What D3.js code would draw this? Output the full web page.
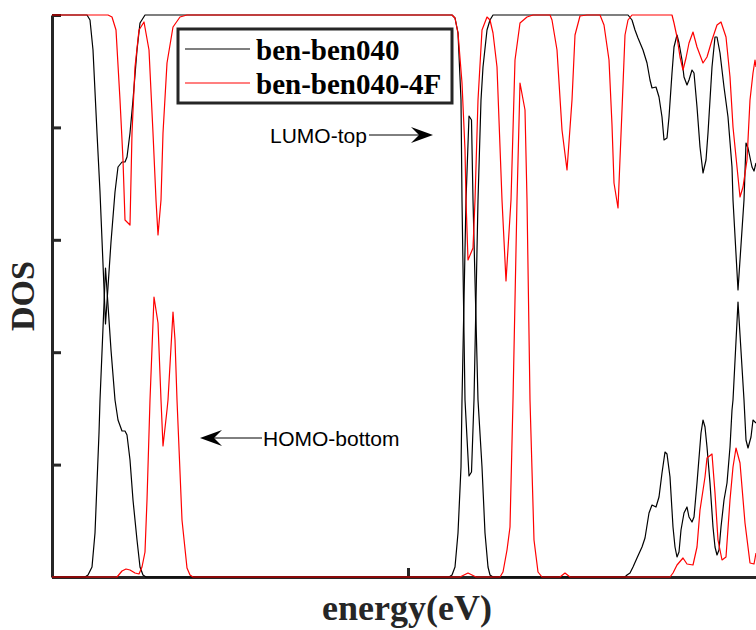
<!DOCTYPE html>
<html><head><meta charset="utf-8">
<script src="https://cdn.jsdelivr.net/npm/d3@7"></script>
<style>body{margin:0;background:#fff}svg{display:block}</style>
</head><body><svg id="c" width="756" height="630"></svg>
<script>
const seriesNames = ["ben-ben040", "ben-ben040-4F"];
const seriesColors = ["#000000", "#ff0000"];
const xTicks = [-10, -2.88];
const yTicks = [0, 1.124, 2.248, 3.372, 4.496, 5.62];

// [energy, DOS]
const blackLower = [[-10,0],[-9.34,0],[-9.28,0.02],[-9.20,0.10],[-9.14,0.44],[-9.10,0.94],[-9.06,1.44],[-9.04,1.77],[-8.99,2.37],[-8.93,3.09],[-8.88,2.72],[-8.82,2.27],[-8.74,1.77],[-8.68,1.57],[-8.60,1.46],[-8.54,1.46],[-8.50,1.42],[-8.44,1.17],[-8.38,0.77],[-8.30,0.37],[-8.24,0.10],[-8.18,0.02],[-8.12,0],
[-2.06,0],[-2.00,0.02],[-1.94,0.10],[-1.88,0.44],[-1.82,1.10],[-1.80,1.77],[-1.72,3.77],[-1.66,4.61],[-1.61,4.57],[-1.58,3.77],[-1.48,1.77],[-1.40,1.10],[-1.34,0.44],[-1.28,0.10],[-1.24,0.02],[-1.18,0],
[1.46,0],[1.50,0.02],[1.56,0.04],[1.62,0.10],[1.70,0.19],[1.80,0.30],[1.86,0.39],[1.94,0.64],[2.00,0.72],[2.08,0.70],[2.14,0.80],[2.20,1.04],[2.26,1.25],[2.30,1.23],[2.36,1.00],[2.42,0.50],[2.46,0.30],[2.50,0.20],[2.54,0.25],[2.58,0.47],[2.64,0.64],[2.70,0.70],[2.74,0.60],[2.80,0.55],[2.84,0.60],[2.90,0.94],[2.98,1.44],[3.02,1.57],[3.06,1.50],[3.10,1.30],[3.16,0.94],[3.22,0.50],[3.26,0.30],[3.30,0.22],[3.34,0.27],[3.38,0.50],[3.44,0.77],[3.50,0.94],[3.56,1.30],[3.60,1.67],[3.62,1.77],[3.72,2.75],[3.84,1.77],[3.88,1.37],[3.92,1.29],[3.98,1.40],[4.02,1.57],[4.08,1.54]];

const blackUpper = [[-10,5.62],[-9.30,5.62],[-9.24,5.57],[-9.18,5.27],[-9.10,4.44],[-9.04,3.85],[-8.99,3.25],[-8.93,2.53],[-8.88,2.90],[-8.82,3.35],[-8.74,3.85],[-8.68,4.10],[-8.60,4.15],[-8.54,4.15],[-8.50,4.20],[-8.44,4.44],[-8.38,4.77],[-8.30,5.27],[-8.24,5.54],[-8.14,5.62],
[-2.06,5.62],[-2.00,5.62],[-1.94,5.59],[-1.88,5.44],[-1.82,4.77],[-1.80,3.77],[-1.74,1.77],[-1.66,1.01],[-1.61,1.05],[-1.56,1.77],[-1.48,3.77],[-1.42,4.77],[-1.38,5.10],[-1.30,5.47],[-1.24,5.57],[-1.18,5.62],
[1.46,5.62],[1.52,5.62],[1.60,5.57],[1.66,5.47],[1.72,5.39],[1.82,5.27],[1.90,5.14],[1.96,4.97],[2.00,4.89],[2.08,4.90],[2.14,4.80],[2.20,4.60],[2.24,4.37],[2.30,4.39],[2.34,4.60],[2.40,5.04],[2.44,5.30],[2.50,5.42],[2.54,5.34],[2.60,5.17],[2.64,5.00],[2.70,4.92],[2.74,4.97],[2.80,5.07],[2.84,5.04],[2.90,4.70],[2.96,4.30],[3.02,4.04],[3.08,4.17],[3.12,4.44],[3.20,5.10],[3.26,5.40],[3.30,5.40],[3.36,5.24],[3.44,4.90],[3.52,4.60],[3.60,4.10],[3.62,3.77],[3.72,2.87],[3.84,3.77],[3.88,4.34],[3.92,4.29],[4.00,4.10],[4.04,4.06],[4.08,4.14]];

const redUpper = [[-10,5.62],[-8.88,5.62],[-8.80,5.60],[-8.72,5.47],[-8.64,4.77],[-8.58,4.17],[-8.54,3.57],[-8.44,3.52],[-8.40,4.44],[-8.34,5.10],[-8.26,5.47],[-8.16,5.55],[-8.06,5.27],[-7.98,4.44],[-7.92,3.77],[-7.88,3.42],[-7.82,3.77],[-7.78,4.44],[-7.70,5.14],[-7.58,5.50],[-7.44,5.60],[-7.30,5.62],
[-2.00,5.62],[-1.94,5.59],[-1.88,5.44],[-1.80,4.94],[-1.74,4.27],[-1.72,3.77],[-1.68,3.17],[-1.58,3.29],[-1.54,3.77],[-1.48,4.77],[-1.40,5.47],[-1.30,5.60],[-1.24,5.57],[-1.18,5.44],[-1.10,5.10],[-1.00,3.77],[-0.92,2.96],[-0.82,3.77],[-0.74,5.17],[-0.64,5.54],[-0.50,5.60],[-0.38,5.62],
[-0.04,5.62],[0.00,5.57],[0.10,5.27],[0.20,4.47],[0.30,4.07],[0.40,4.77],[0.46,5.42],[0.56,5.61],[0.70,5.62],[0.96,5.62],[1.04,5.52],[1.14,5.17],[1.20,4.52],[1.24,3.94],[1.32,3.69],[1.40,4.67],[1.46,5.42],[1.52,5.57],[1.60,5.62],
[2.40,5.62],[2.44,5.54],[2.50,5.40],[2.56,5.20],[2.62,5.07],[2.68,5.19],[2.74,5.34],[2.82,5.45],[2.90,5.30],[3.02,5.14],[3.10,5.20],[3.20,5.37],[3.30,5.52],[3.38,5.55],[3.48,5.40],[3.56,5.00],[3.62,4.50],[3.70,4.10],[3.76,3.80],[3.82,3.90],[3.90,4.17],[3.96,4.77],[4.02,5.04],[4.06,5.17],[4.08,5.10]];

const redLower = [[-10,0],[-8.70,0],[-8.60,0.06],[-8.52,0.08],[-8.44,0.07],[-8.34,0.04],[-8.26,0.03],[-8.20,0.10],[-8.14,0.25],[-8.10,0.77],[-8.04,1.77],[-7.96,2.80],[-7.88,2.54],[-7.82,1.77],[-7.78,1.31],[-7.70,1.67],[-7.68,1.77],[-7.58,2.65],[-7.54,2.37],[-7.50,1.77],[-7.40,0.57],[-7.30,0.09],[-7.24,0.02],[-7.18,0],
[-1.84,0],[-1.68,0.04],[-1.52,0],[-1.04,0],[-0.98,0.05],[-0.90,0.27],[-0.84,0.50],[-0.78,1.77],[-0.70,3.77],[-0.64,4.94],[-0.54,4.67],[-0.50,3.77],[-0.44,1.77],[-0.36,0.37],[-0.28,0.05],[-0.20,0],
[0.16,0],[0.26,0.04],[0.36,0],[2.36,0],[2.42,0.04],[2.50,0.12],[2.62,0.19],[2.70,0.13],[2.82,0.12],[2.90,0.30],[2.96,0.67],[3.06,1.00],[3.10,1.19],[3.20,1.23],[3.26,0.84],[3.32,0.37],[3.40,0.17],[3.48,0.20],[3.56,0.77],[3.62,1.10],[3.68,1.29],[3.76,1.14],[3.86,0.54],[3.96,0.14],[4.04,0.13],[4.08,0.24]];

const svg = d3.select("#c");
const x = d3.scaleLinear().domain([-10, 4.08]).range([52, 756]);
const y = d3.scaleLinear().domain([0, 5.62]).range([577, 15]);
const axisColor = "#262626";

// axes
const gx = svg.append("g").attr("transform", "translate(0,577)")
  .call(d3.axisBottom(x).tickValues(xTicks).tickSize(-9).tickSizeOuter(0).tickFormat(""));
const gy = svg.append("g").attr("transform", "translate(52,0)")
  .call(d3.axisLeft(y).tickValues(yTicks).tickSize(-9).tickSizeOuter(0).tickFormat(""));
[gx, gy].forEach(g => {
  g.select(".domain").attr("stroke", axisColor).attr("stroke-width", 3);
  g.selectAll(".tick line").attr("stroke", axisColor).attr("stroke-width", 3);
});

const line = d3.line().x(d => x(d[0])).y(d => y(d[1]));
const curves = [
  {data: blackUpper, color: seriesColors[0]},
  {data: blackLower, color: seriesColors[0]},
  {data: redUpper, color: seriesColors[1]},
  {data: redLower, color: seriesColors[1]}
];
svg.append("g").selectAll("path").data(curves).join("path")
  .attr("d", d => line(d.data))
  .attr("fill", "none")
  .attr("stroke", d => d.color)
  .attr("stroke-width", 1.2)
  .attr("stroke-linejoin", "round");

// axis labels
svg.append("text").attr("transform", "translate(34,296) rotate(-90)")
  .attr("text-anchor", "middle")
  .style("font-family", "'Liberation Serif','Times New Roman',serif")
  .style("font-weight", "bold").style("font-size", "34px").attr("fill", "#262626")
  .text("DOS");
svg.append("text").attr("x", 407).attr("y", 620)
  .attr("text-anchor", "middle")
  .style("font-family", "'Liberation Serif','Times New Roman',serif")
  .style("font-weight", "bold").style("font-size", "36px").attr("fill", "#262626")
  .text("energy(eV)");

// legend
const leg = svg.append("g");
leg.append("rect").attr("x", 178).attr("y", 29).attr("width", 274).attr("height", 74)
  .attr("fill", "#fff").attr("stroke", axisColor).attr("stroke-width", 3);
const legY = [49, 83];
const legBase = [60, 94];
seriesNames.forEach((n, i) => {
  leg.append("line").attr("x1", 185).attr("x2", 250).attr("y1", legY[i]).attr("y2", legY[i])
    .attr("stroke", seriesColors[i]).attr("stroke-width", 1.2);
  leg.append("text").attr("x", 256).attr("y", legBase[i])
    .style("font-family", "'Liberation Serif','Times New Roman',serif")
    .style("font-weight", "bold").style("font-size", "29px").attr("fill", "#000")
    .text(n);
});

// annotations
function arrow(x1, x2, yy) {
  const dir = Math.sign(x2 - x1);
  svg.append("line").attr("x1", x1).attr("x2", x2 - dir * 10).attr("y1", yy).attr("y2", yy)
    .attr("stroke", "#000").attr("stroke-width", 1);
  const p = [[x2, yy], [x2 - dir * 22, yy - 8], [x2 - dir * 14, yy], [x2 - dir * 22, yy + 8]];
  svg.append("path").attr("d", "M" + p.map(q => q.join(",")).join("L") + "Z").attr("fill", "#000");
}
svg.append("text").attr("x", 270).attr("y", 143)
  .style("font-family", "'Liberation Sans',Arial,sans-serif").style("font-size", "21px")
  .text("LUMO-top");
arrow(369, 433, 135);
svg.append("text").attr("x", 263).attr("y", 446)
  .style("font-family", "'Liberation Sans',Arial,sans-serif").style("font-size", "21px")
  .text("HOMO-bottom");
arrow(262, 200, 438);
</script></body></html>
